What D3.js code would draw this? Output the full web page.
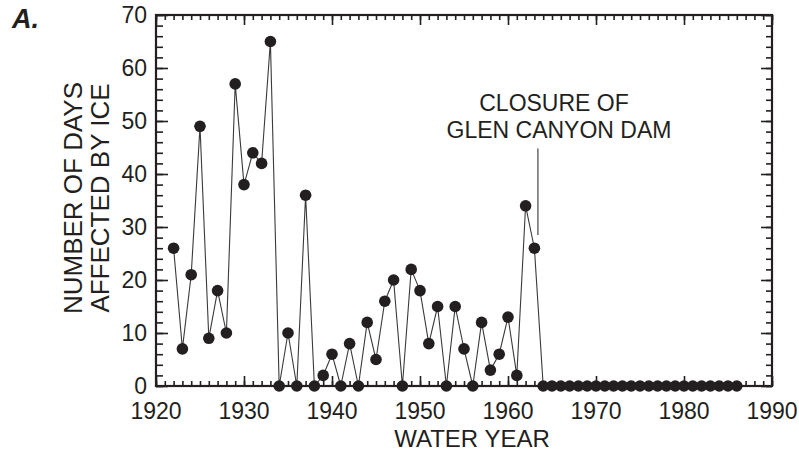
<!DOCTYPE html>
<html>
  <head>
    <meta charset="utf-8">
    <title>Number of days affected by ice</title>
    <script src="https://d3js.org/d3.v7.min.js"></script>
    <style>
      body { margin: 0; background: #fff; }
      text { font-family: "Liberation Sans", Arial, Helvetica, sans-serif; fill: #231f20; }
    </style>
  </head>
  <body>
    <div id="chart"></div>
    <script>
      // water years and number of days affected by ice
      var years = d3.range(1922, 1987);
      var days = [26, 7, 21, 49, 9, 18, 10, 57, 38, 44, 42, 65, 0, 10, 0, 36, 0, 2, 6, 0,
                  8, 0, 12, 5, 16, 20, 0, 22, 18, 8, 15, 0, 15, 7, 0, 12, 3, 6, 13, 2,
                  34, 26,
                  0, 0, 0, 0, 0, 0, 0, 0, 0, 0, 0, 0, 0, 0, 0, 0, 0, 0, 0, 0, 0, 0, 0];
      var xTicks = [1920, 1930, 1940, 1950, 1960, 1970, 1980, 1990];
      var yTicks = [0, 10, 20, 30, 40, 50, 60, 70];
      var closureYear = 1963.4;
      var closureRange = [28.5, 44.8];

      var width = 799, height = 456;
      var margin = {top: 15, right: 27, bottom: 70, left: 156};

      var svg = d3.select("#chart").append("svg")
          .attr("width", width)
          .attr("height", height);

      var x = d3.scaleLinear().domain([1920, 1990]).range([margin.left, width - margin.right]);
      var y = d3.scaleLinear().domain([0, 70]).range([height - margin.bottom, margin.top]);

      var data = years.map(function(d, i) { return {year: d, value: days[i]}; });

      // inward ticks on all four sides
      var minorX = d3.range(1920, 1991, 1);
      var minorY = d3.range(0, 71, 2);

      svg.append("g")
          .attr("transform", "translate(0," + y(0) + ")")
          .call(d3.axisTop(x).tickValues(minorX).tickSize(5).tickFormat(""))
          .call(g => g.select(".domain").remove());
      svg.append("g")
          .attr("transform", "translate(0," + y(0) + ")")
          .call(d3.axisTop(x).tickValues(xTicks).tickSize(10).tickFormat(""))
          .call(g => g.select(".domain").remove());
      svg.append("g")
          .attr("transform", "translate(0," + y(70) + ")")
          .call(d3.axisBottom(x).tickValues(minorX).tickSize(5).tickFormat(""))
          .call(g => g.select(".domain").remove());
      svg.append("g")
          .attr("transform", "translate(0," + y(70) + ")")
          .call(d3.axisBottom(x).tickValues(xTicks).tickSize(10).tickFormat(""))
          .call(g => g.select(".domain").remove());
      svg.append("g")
          .attr("transform", "translate(" + x(1920) + ",0)")
          .call(d3.axisRight(y).tickValues(minorY).tickSize(7).tickFormat(""))
          .call(g => g.select(".domain").remove());
      svg.append("g")
          .attr("transform", "translate(" + x(1920) + ",0)")
          .call(d3.axisRight(y).tickValues(yTicks).tickSize(12).tickFormat(""))
          .call(g => g.select(".domain").remove());
      svg.append("g")
          .attr("transform", "translate(" + x(1990) + ",0)")
          .call(d3.axisLeft(y).tickValues(minorY).tickSize(6).tickFormat(""))
          .call(g => g.select(".domain").remove());
      svg.append("g")
          .attr("transform", "translate(" + x(1990) + ",0)")
          .call(d3.axisLeft(y).tickValues(yTicks).tickSize(11).tickFormat(""))
          .call(g => g.select(".domain").remove());

      svg.selectAll(".tick line").attr("stroke", "#231f20").attr("stroke-width", 1.6);

      // frame
      svg.append("rect")
          .attr("x", x(1920)).attr("y", y(70))
          .attr("width", x(1990) - x(1920)).attr("height", y(0) - y(70))
          .attr("fill", "none").attr("stroke", "#231f20").attr("stroke-width", 2.2);

      // tick labels
      svg.selectAll(".xlab").data(xTicks).enter().append("text")
          .attr("x", d => x(d)).attr("y", y(0) + 33)
          .attr("text-anchor", "middle")
          .style("font-size", "23px")
          .text(d => d);
      svg.selectAll(".ylab").data(yTicks).enter().append("text")
          .attr("x", x(1920) - 9).attr("y", d => y(d) + 8)
          .attr("text-anchor", "end")
          .style("font-size", "23px")
          .text(d => d);

      // axis titles
      svg.append("text")
          .attr("x", (x(1920) + x(1990)) / 2 + 8).attr("y", y(0) + 61)
          .attr("text-anchor", "middle")
          .style("font-size", "24px")
          .text("WATER YEAR");

      var ylab = svg.append("text")
          .attr("transform", "translate(82,198) rotate(-90)")
          .attr("text-anchor", "middle")
          .style("font-size", "26px");
      ylab.append("tspan").attr("x", 0).attr("dy", 0).text("NUMBER OF DAYS");
      ylab.append("tspan").attr("x", 0).attr("dy", 27).text("AFFECTED BY ICE");

      svg.append("text")
          .attr("x", 12).attr("y", 28)
          .style("font-size", "27px")
          .style("font-weight", "bold")
          .style("font-style", "italic")
          .text("A.");

      // series line and points
      var line = d3.line().x(d => x(d.year)).y(d => y(d.value));
      svg.append("path")
          .datum(data)
          .attr("d", line)
          .attr("fill", "none")
          .attr("stroke", "#3a3a3a")
          .attr("stroke-width", 1.1);

      svg.selectAll(".pt").data(data).enter().append("circle")
          .attr("cx", d => x(d.year))
          .attr("cy", d => y(d.value))
          .attr("r", 5.8)
          .attr("fill", "#231f20");

      // annotation
      svg.append("line")
          .attr("x1", x(closureYear)).attr("x2", x(closureYear))
          .attr("y1", y(closureRange[0])).attr("y2", y(closureRange[1]))
          .attr("stroke", "#444").attr("stroke-width", 1.2);
      svg.append("text")
          .attr("x", 554).attr("y", 111)
          .attr("text-anchor", "middle")
          .style("font-size", "23px")
          .text("CLOSURE OF");
      svg.append("text")
          .attr("x", 559).attr("y", 138)
          .attr("text-anchor", "middle")
          .style("font-size", "23px")
          .text("GLEN CANYON DAM");
    </script>
  </body>
</html>
